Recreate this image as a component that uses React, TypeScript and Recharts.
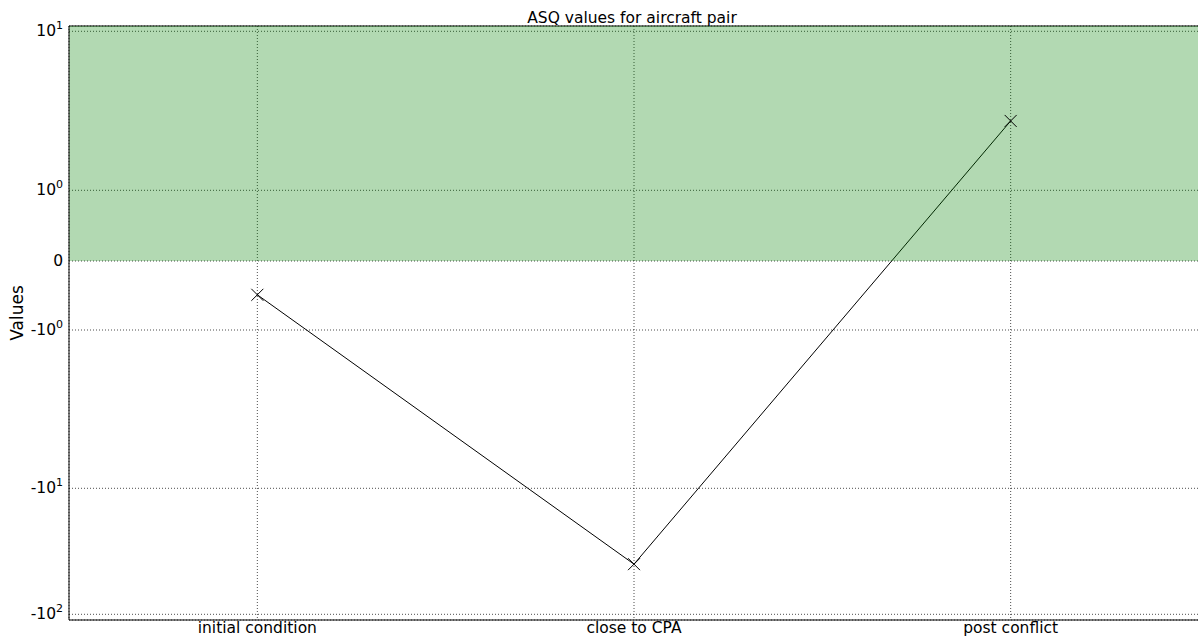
import { LineChart, Line, XAxis, YAxis, CartesianGrid, ReferenceArea, ReferenceLine } from 'recharts';

const categories = ['initial condition', 'close to CPA', 'post conflict'];
const asqValues = [-0.49, -40, 2.73];
const yTickValues = [10, 1, 0, -1, -10, -100];
const chartTitle = 'ASQ values for aircraft pair';
const yLabel = 'Values';

// symlog-style axis: anchors where the original figure puts its decade ticks
const anchorValues = [-100, -10, -1, 0, 1, 10];
const anchorUnits = [-353.3, -227.3, -69, 0, 70.7, 229.7];
const Y_TOP = 235;
const Y_BOTTOM = -359;

const fold = (v: number) => (Math.abs(v) <= 1 ? v : Math.sign(v) * (1 + Math.log10(Math.abs(v))));

const toAxis = (v: number) => {
  const f = fold(v);
  const fa = anchorValues.map(fold);
  let i = 0;
  while (i < fa.length - 2 && f > fa[i + 1]) i++;
  const t = (f - fa[i]) / (fa[i + 1] - fa[i]);
  return anchorUnits[i] + t * (anchorUnits[i + 1] - anchorUnits[i]);
};

const data = categories.map((name, i) => ({ x: i, name, asq: toAxis(asqValues[i]) }));
const yTicks = yTickValues.map(toAxis);

const FONT = '"DejaVu Sans", sans-serif';

const YTick = (props: any) => {
  const { x, y, index } = props;
  const v = yTickValues[index];
  if (v === 0) {
    return (
      <text x={x} y={y} dy={5} textAnchor="end" fontSize={15.5} fill="#000" fontFamily={FONT}>0</text>
    );
  }
  const exp = Math.round(Math.log10(Math.abs(v)));
  return (
    <text x={x} y={y} dy={5} textAnchor="end" fontSize={15.5} fill="#000" fontFamily={FONT}>
      {v < 0 ? '-' : ''}10
      <tspan dy={-7} fontSize={11}>{exp}</tspan>
    </text>
  );
};

const XTick = (props: any) => {
  const { x, y, payload } = props;
  return (
    <text x={x} y={y} dy={11} textAnchor="middle" fontSize={15.5} fill="#000" fontFamily={FONT}>
      {categories[payload.value]}
    </text>
  );
};

const CrossDot = (props: any) => {
  const { cx, cy } = props;
  const s = 6;
  return (
    <path
      d={`M${cx - s},${cy - s}L${cx + s},${cy + s}M${cx - s},${cy + s}L${cx + s},${cy - s}`}
      stroke="#000"
      strokeWidth={1}
      fill="none"
    />
  );
};

export default function App() {
  return (
    <div style={{ position: 'absolute', left: 0, top: 0, width: 1198, height: 640, background: '#fff' }}>
      <LineChart width={1198} height={640} data={data} margin={{ top: 26, right: -1, bottom: 0, left: 0 }}>
        <CartesianGrid stroke="#000" strokeDasharray="1 2" strokeOpacity={0.7} />
        <ReferenceArea y1={0} y2={Y_TOP} fill="#008000" fillOpacity={0.3} stroke="none" zIndex={500} />
        <XAxis
          dataKey="x"
          type="number"
          domain={[-0.5, 2.5]}
          ticks={[0, 1, 2]}
          height={20}
          tickSize={0}
          tick={<XTick />}
          axisLine={{ stroke: '#000', strokeWidth: 1 }}
        />
        <YAxis
          type="number"
          domain={[Y_BOTTOM, Y_TOP]}
          ticks={yTicks}
          width={69}
          tickSize={0}
          tickMargin={6}
          tick={<YTick />}
          axisLine={{ stroke: '#000', strokeWidth: 1 }}
          interval={0}
          allowDataOverflow
        />
        <ReferenceLine y={Y_TOP} stroke="#000" strokeWidth={1} />
        <Line
          type="linear"
          dataKey="asq"
          stroke="#000"
          strokeWidth={1}
          dot={<CrossDot />}
          activeDot={false}
          isAnimationActive={false}
        />
      </LineChart>
      <svg width={1198} height={640} style={{ position: 'absolute', left: 0, top: 0, pointerEvents: 'none' }}>
        <text x={632} y={23} textAnchor="middle" fontSize={15.5} fill="#000" fontFamily={FONT}>
          {chartTitle}
        </text>
        <text
          x={23}
          y={313}
          textAnchor="middle"
          fontSize={17}
          fill="#000"
          fontFamily={FONT}
          transform="rotate(-90 23 313)"
        >
          {yLabel}
        </text>
      </svg>
    </div>
  );
}
